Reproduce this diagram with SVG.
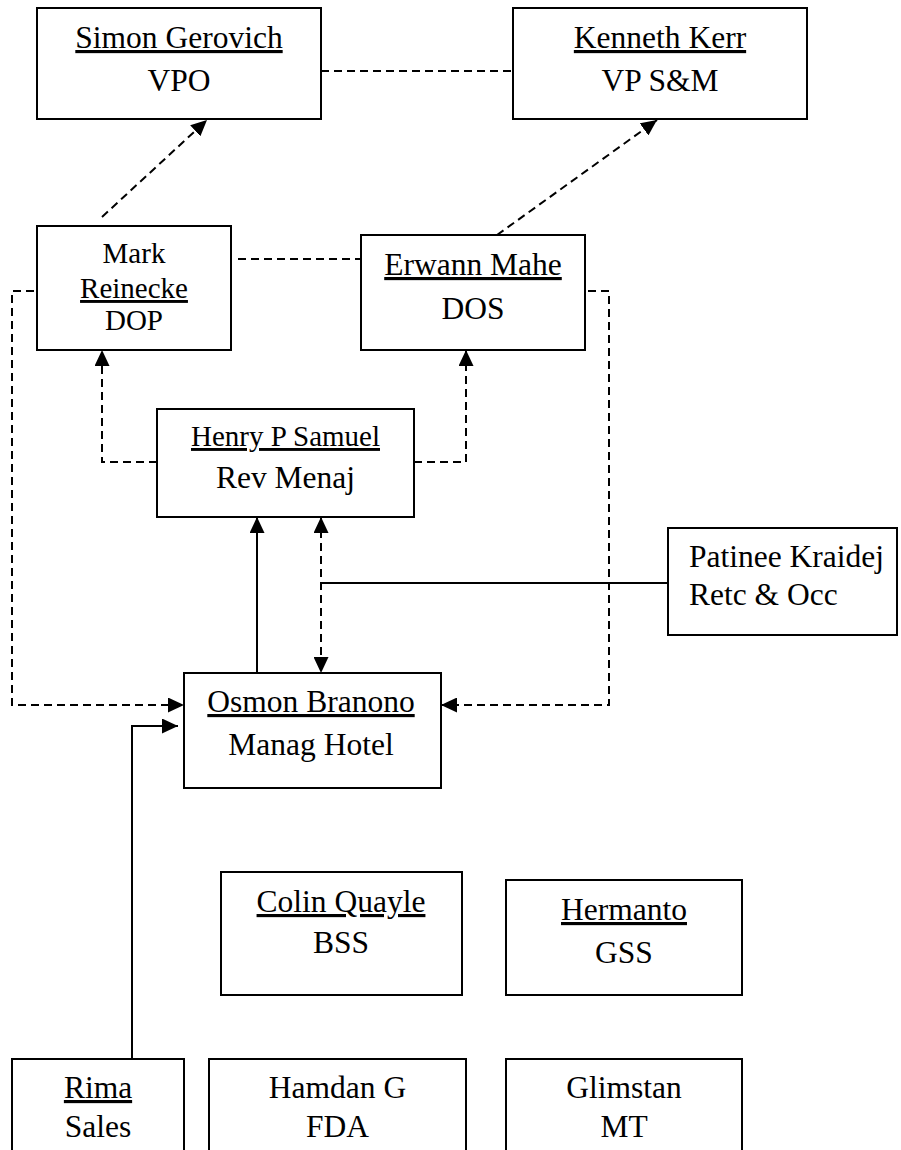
<svg xmlns="http://www.w3.org/2000/svg" width="901" height="1150" viewBox="0 0 901 1150">
<style>
.box{fill:#fff;stroke:#000;stroke-width:2}
.t{font-family:"Liberation Serif","Times New Roman",serif;font-size:31.5px;fill:#000;text-anchor:middle}
.s{font-size:29px}
.u{text-decoration:underline}
.l{text-anchor:start}
.c{fill:none;stroke:#000;stroke-width:2}
.d{stroke-dasharray:8 5}
</style>
<defs>
<marker id="ah" viewBox="0 0 16 15" refX="16" refY="7.5" markerWidth="16" markerHeight="15" markerUnits="userSpaceOnUse" orient="auto-start-reverse">
<path d="M0,0 L16,7.5 L0,15 z" fill="#000"/>
</marker>
</defs>
<rect width="901" height="1150" fill="#fff"/>
<g id="connectors">
<path class="c d" d="M321,71 H513"/>
<path class="c d" d="M102,217 L207,120" marker-end="url(#ah)"/>
<path class="c d" d="M497,235 L657,120" marker-end="url(#ah)"/>
<path class="c d" d="M238,259 H361"/>
<path class="c d" d="M34,291 H12 V705 H184" marker-end="url(#ah)"/>
<path class="c d" d="M588,291 H609 V705 H441" marker-end="url(#ah)"/>
<path class="c d" d="M157,462 H102 V350" marker-end="url(#ah)"/>
<path class="c d" d="M414,462 H466 V350" marker-end="url(#ah)"/>
<path class="c" d="M257,673 V517" marker-end="url(#ah)"/>
<path class="c d" d="M321,517 V673" marker-start="url(#ah)" marker-end="url(#ah)"/>
<path class="c" d="M321,583 H668"/>
<path class="c" d="M132,1059 V726 H178" marker-end="url(#ah)"/>
</g>
<g id="simon">
<rect class="box" x="37" y="8" width="284" height="111"/>
<text class="t u" x="179" y="48">Simon Gerovich</text>
<text class="t" x="179" y="91">VPO</text>
</g>
<g id="kenneth">
<rect class="box" x="513" y="8" width="294" height="111"/>
<text class="t u" x="660" y="48">Kenneth Kerr</text>
<text class="t" x="660" y="91">VP S&amp;M</text>
</g>
<g id="mark">
<rect class="box" x="37" y="226" width="194" height="124"/>
<text class="t s" x="134" y="263">Mark</text>
<text class="t s u" x="134" y="298">Reinecke</text>
<text class="t s" x="134" y="330">DOP</text>
</g>
<g id="erwann">
<rect class="box" x="361" y="235" width="224" height="115"/>
<text class="t u" x="473" y="275">Erwann Mahe</text>
<text class="t" x="473" y="319">DOS</text>
</g>
<g id="henry">
<rect class="box" x="157" y="409" width="257" height="108"/>
<text class="t s u" x="285.5" y="446">Henry P Samuel</text>
<text class="t" x="285.5" y="488">Rev Menaj</text>
</g>
<g id="patinee">
<rect class="box" x="668" y="528" width="229" height="107"/>
<text class="t l" x="689" y="567">Patinee Kraidej</text>
<text class="t l" x="689" y="605">Retc &amp; Occ</text>
</g>
<g id="osmon">
<rect class="box" x="184" y="673" width="257" height="115"/>
<text class="t u" x="311" y="712">Osmon Branono</text>
<text class="t" x="311" y="755">Manag Hotel</text>
</g>
<g id="colin">
<rect class="box" x="221" y="872" width="241" height="123"/>
<text class="t u" x="341" y="912">Colin Quayle</text>
<text class="t" x="341" y="953">BSS</text>
</g>
<g id="hermanto">
<rect class="box" x="506" y="880" width="236" height="115"/>
<text class="t u" x="624" y="920">Hermanto</text>
<text class="t" x="624" y="963">GSS</text>
</g>
<g id="rima">
<rect class="box" x="12" y="1059" width="172" height="110"/>
<text class="t u" x="98" y="1098">Rima</text>
<text class="t" x="98" y="1137">Sales</text>
</g>
<g id="hamdan">
<rect class="box" x="209" y="1059" width="257" height="110"/>
<text class="t" x="337.5" y="1098">Hamdan G</text>
<text class="t" x="337.5" y="1137">FDA</text>
</g>
<g id="glimstan">
<rect class="box" x="506" y="1059" width="236" height="110"/>
<text class="t" x="624" y="1098">Glimstan</text>
<text class="t" x="624" y="1137">MT</text>
</g>
</svg>
